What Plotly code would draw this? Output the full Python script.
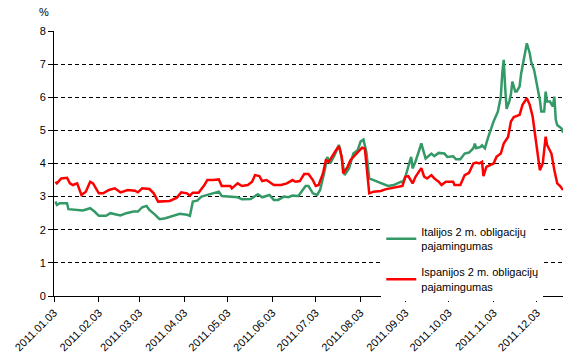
import plotly.graph_objects as go

# Italy 2y bond yield (%)
italy_dates = [
    "2011-01-04", "2011-01-05", "2011-01-07", "2011-01-12", "2011-01-13", "2011-01-19",
    "2011-01-23", "2011-01-28", "2011-01-31", "2011-02-03", "2011-02-08", "2011-02-11",
    "2011-02-14", "2011-02-18", "2011-02-22", "2011-02-27", "2011-03-02", "2011-03-05",
    "2011-03-08", "2011-03-10", "2011-03-14", "2011-03-17", "2011-03-21", "2011-03-27",
    "2011-03-31", "2011-04-05", "2011-04-07", "2011-04-09", "2011-04-12", "2011-04-15",
    "2011-04-19", "2011-04-23", "2011-04-27", "2011-04-29", "2011-05-05", "2011-05-10",
    "2011-05-13", "2011-05-19", "2011-05-24", "2011-05-27", "2011-06-01", "2011-06-04",
    "2011-06-07", "2011-06-11", "2011-06-14", "2011-06-17", "2011-06-21", "2011-06-24",
    "2011-06-26", "2011-06-28", "2011-07-01", "2011-07-04", "2011-07-06", "2011-07-09",
    "2011-07-11", "2011-07-13", "2011-07-16", "2011-07-19", "2011-07-20", "2011-07-23",
    "2011-07-26", "2011-07-29", "2011-08-01", "2011-08-03", "2011-08-05", "2011-08-07",
    "2011-08-09", "2011-08-12", "2011-08-17", "2011-08-22", "2011-08-26", "2011-08-31",
    "2011-09-01", "2011-09-03", "2011-09-06", "2011-09-07", "2011-09-08", "2011-09-10",
    "2011-09-13", "2011-09-14", "2011-09-16", "2011-09-17", "2011-09-21", "2011-09-23",
    "2011-09-26", "2011-09-30", "2011-10-02", "2011-10-06", "2011-10-08", "2011-10-11",
    "2011-10-14", "2011-10-17", "2011-10-20", "2011-10-21", "2011-10-22", "2011-10-25",
    "2011-10-26", "2011-10-28", "2011-10-30", "2011-11-01", "2011-11-03", "2011-11-06",
    "2011-11-08", "2011-11-09", "2011-11-10", "2011-11-11", "2011-11-12", "2011-11-14",
    "2011-11-15", "2011-11-16", "2011-11-18", "2011-11-19", "2011-11-21", "2011-11-22",
    "2011-11-24", "2011-11-26", "2011-11-28", "2011-11-29", "2011-12-01", "2011-12-03",
    "2011-12-05", "2011-12-06", "2011-12-08", "2011-12-09", "2011-12-10", "2011-12-12",
    "2011-12-14", "2011-12-15", "2011-12-16", "2011-12-17", "2011-12-20", "2011-12-21",
]
italy_values = [
    2.85, 2.75, 2.80, 2.80, 2.62, 2.60,
    2.58, 2.65, 2.55, 2.42, 2.42, 2.50,
    2.47, 2.43, 2.50, 2.55, 2.55, 2.68,
    2.72, 2.60, 2.45, 2.32, 2.35, 2.42,
    2.48, 2.45, 2.42, 2.85, 2.88, 3.00,
    3.05, 3.10, 3.15, 3.02, 3.00, 2.98,
    2.92, 2.93, 3.07, 2.98, 3.05, 2.90,
    2.90, 3.00, 2.98, 3.03, 3.02, 3.20,
    3.32, 3.32, 3.10, 3.05, 3.20, 3.75,
    4.20, 4.00, 4.25, 4.56, 4.40, 3.65,
    3.85, 4.30, 4.40, 4.66, 4.72, 4.35,
    3.55, 3.50, 3.40, 3.32, 3.35, 3.45,
    3.42, 3.60, 4.06, 4.20, 3.85, 4.06,
    4.46, 4.61, 4.30, 4.15, 4.30, 4.22,
    4.32, 4.30, 4.20, 4.22, 4.13, 4.13,
    4.30, 4.33, 4.46, 4.60, 4.46, 4.50,
    4.55, 4.46, 4.76, 5.02, 5.27, 5.57,
    6.02, 6.73, 7.13, 6.30, 5.65, 5.90,
    6.10, 6.47, 6.17, 6.17, 6.33, 6.70,
    7.23, 7.63, 7.33, 7.07, 6.83, 6.38,
    5.92, 5.57, 5.57, 6.17, 5.87, 5.87,
    5.72, 6.02, 5.33, 5.16, 5.06, 4.93,
]

# Spain 2y bond yield (%)
spain_dates = [
    "2011-01-04", "2011-01-05", "2011-01-08", "2011-01-12", "2011-01-14", "2011-01-16",
    "2011-01-19", "2011-01-22", "2011-01-25", "2011-01-28", "2011-01-30", "2011-02-03",
    "2011-02-06", "2011-02-10", "2011-02-14", "2011-02-18", "2011-02-23", "2011-02-28",
    "2011-03-02", "2011-03-05", "2011-03-10", "2011-03-13", "2011-03-16", "2011-03-21",
    "2011-03-24", "2011-03-29", "2011-04-01", "2011-04-05", "2011-04-07", "2011-04-09",
    "2011-04-13", "2011-04-17", "2011-04-19", "2011-04-23", "2011-04-27", "2011-04-29",
    "2011-05-05", "2011-05-06", "2011-05-10", "2011-05-13", "2011-05-17", "2011-05-20",
    "2011-05-22", "2011-05-25", "2011-05-27", "2011-05-30", "2011-06-04", "2011-06-09",
    "2011-06-13", "2011-06-17", "2011-06-19", "2011-06-22", "2011-06-25", "2011-06-28",
    "2011-07-01", "2011-07-03", "2011-07-05", "2011-07-08", "2011-07-10", "2011-07-12",
    "2011-07-14", "2011-07-17", "2011-07-19", "2011-07-21", "2011-07-22", "2011-07-25",
    "2011-07-27", "2011-07-29", "2011-08-02", "2011-08-04", "2011-08-06", "2011-08-08",
    "2011-08-09", "2011-08-12", "2011-08-17", "2011-08-20", "2011-08-24", "2011-08-27",
    "2011-08-31", "2011-09-01", "2011-09-03", "2011-09-05", "2011-09-08", "2011-09-10",
    "2011-09-14", "2011-09-16", "2011-09-18", "2011-09-21", "2011-09-23", "2011-09-26",
    "2011-09-28", "2011-10-01", "2011-10-06", "2011-10-07", "2011-10-11", "2011-10-14",
    "2011-10-17", "2011-10-20", "2011-10-22", "2011-10-24", "2011-10-26", "2011-10-27",
    "2011-10-29", "2011-11-01", "2011-11-03", "2011-11-05", "2011-11-08", "2011-11-10",
    "2011-11-13", "2011-11-15", "2011-11-17", "2011-11-21", "2011-11-23", "2011-11-26",
    "2011-11-28", "2011-11-30", "2011-12-02", "2011-12-04", "2011-12-05", "2011-12-07",
    "2011-12-09", "2011-12-10", "2011-12-13", "2011-12-15", "2011-12-17", "2011-12-19",
    "2011-12-21",
]
spain_values = [
    3.45, 3.40, 3.55, 3.57, 3.40, 3.35,
    3.40, 3.05, 3.15, 3.45, 3.40, 3.10,
    3.10, 3.20, 3.25, 3.13, 3.20, 3.18,
    3.13, 3.25, 3.23, 3.10, 2.85, 2.87,
    2.87, 2.97, 3.13, 3.10, 3.03, 3.12,
    3.12, 3.35, 3.50, 3.50, 3.52, 3.32,
    3.32, 3.25, 3.40, 3.32, 3.35, 3.45,
    3.65, 3.62, 3.47, 3.50, 3.35, 3.35,
    3.40, 3.50, 3.45, 3.47, 3.68, 3.68,
    3.50, 3.32, 3.35, 3.70, 4.10, 4.05,
    4.20, 4.40, 4.52, 4.20, 3.70, 3.90,
    4.10, 4.20, 4.40, 4.48, 4.45, 3.65,
    3.10, 3.15, 3.17, 3.22, 3.25, 3.28,
    3.32, 3.32, 3.60, 3.62, 3.40, 3.60,
    3.86, 3.60, 3.55, 3.65, 3.55, 3.45,
    3.35, 3.45, 3.45, 3.35, 3.35, 3.65,
    3.72, 4.00, 4.03, 4.00, 4.05, 3.62,
    3.90, 3.95, 4.00, 4.20, 4.30, 4.60,
    4.80, 5.27, 5.40, 5.47, 5.77, 5.97,
    5.77, 5.42, 4.81, 4.26, 3.80, 4.00,
    4.81, 4.56, 4.30, 3.80, 3.40, 3.32,
    3.20,
]

tick_dates = ["2011-01-03", "2011-02-03", "2011-03-03", "2011-04-03", "2011-05-03", "2011-06-03",
              "2011-07-03", "2011-08-03", "2011-09-03", "2011-10-03", "2011-11-03", "2011-12-03"]
tick_labels = ["2011.01.03", "2011.02.03", "2011.03.03", "2011.04.03", "2011.05.03", "2011.06.03",
               "2011.07.03", "2011.08.03", "2011.09.03", "2011.10.03", "2011.11.03", "2011.12.03"]

name_italy = "Italijos 2 m. obligacijų<br>pajamingumas"
name_spain = "Ispanijos 2 m. obligacijų<br>pajamingumas"

FONT = "Liberation Sans, Arial, sans-serif"

fig = go.Figure()
fig.add_trace(go.Scatter(x=italy_dates, y=italy_values, mode="lines", name=name_italy,
                         legendgroup="it", line=dict(color="#339966", width=2.5)))
fig.add_trace(go.Scatter(x=spain_dates, y=spain_values, mode="lines", name=name_spain,
                         legendgroup="es", line=dict(color="#FF0000", width=2.5)))

fig.update_layout(
    width=567, height=364,
    margin=dict(l=54, r=4, t=31, b=68),
    paper_bgcolor="white", plot_bgcolor="white",
    font=dict(family=FONT, size=11, color="black"),
    showlegend=True,
    legend=dict(x=0.643, y=0.295, xanchor="left", yanchor="top",
                bgcolor="white", borderwidth=0, font=dict(size=11, family=FONT),
                tracegroupgap=9, itemwidth=30),
)
fig.add_annotation(text="%", xref="paper", yref="paper", x=-0.034, y=1.04,
                   yanchor="bottom", showarrow=False, font=dict(size=11, family=FONT))

fig.update_xaxes(
    type="date", range=["2011-01-03", "2011-12-21"], automargin=False,
    tickvals=tick_dates, ticktext=tick_labels, tickangle=-45,
    ticks="outside", ticklen=5, tickcolor="black",
    showline=True, linecolor="black", linewidth=1,
    showgrid=False, zeroline=False,
    tickfont=dict(size=11, family=FONT),
)
fig.update_yaxes(
    range=[0, 8], dtick=1, tick0=0, automargin=False,
    ticks="outside", ticklen=5, tickcolor="black",
    showline=True, linecolor="black", linewidth=1,
    showgrid=True, gridcolor="black", gridwidth=1, griddash="4px,3px",
    zeroline=False,
    tickfont=dict(size=11, family=FONT),
)

fig.write_html("out.html", config={"displayModeBar": False},
               post_script="document.body.style.margin='0';document.body.style.padding='0';")
